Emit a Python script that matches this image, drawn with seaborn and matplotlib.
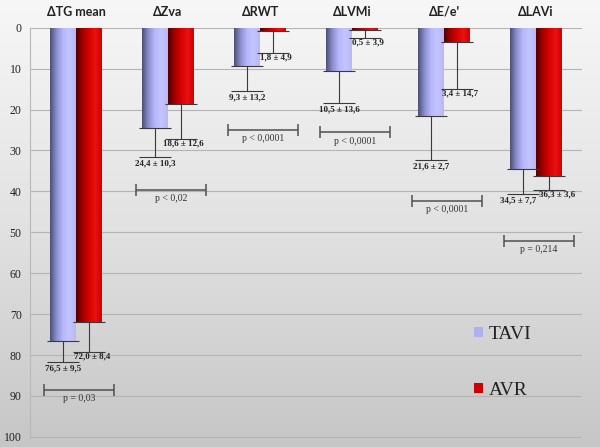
import numpy as np
import pandas as pd
import matplotlib
matplotlib.use('Agg')
import matplotlib.pyplot as plt
from matplotlib.colors import LinearSegmentedColormap
from matplotlib.patches import Patch
import seaborn as sns

# chart data
categories = ['ΔTG mean', 'ΔZva', 'ΔRWT', 'ΔLVMi', "ΔE/e'", 'ΔLAVi']
groups = ['TAVI', 'AVR']
tavi_vals = [76.5, 24.4, 9.3, 10.5, 21.6, 34.5]
avr_vals = [72.0, 18.6, 0.7, 0.6, 3.5, 36.3]
# error bar lengths as drawn in the figure
tavi_err = [5.3, 7.2, 6.2, 7.8, 10.7, 6.1]
avr_err = [7.2, 8.6, 5.5, 1.9, 11.5, 3.3]
tavi_labels = ['76,5 ± 9,5', '24,4 ± 10,3', '9,3 ± 13,2', '10,5 ± 13,6', '21,6 ± 2,7', '34,5 ± 7,7']
avr_labels = ['72,0 ± 8,4', '18,6 ± 12,6', '1,8 ± 4,9', '0,5 ± 3,9', '3,4 ± 14,7', '36,3 ± 3,6']
p_labels = ['p = 0,03', 'p < 0,02', 'p < 0,0001', 'p < 0,0001', 'p < 0,0001', 'p = 0,214']
p_level = [88.6, 39.7, 25.1, 25.6, 42.3, 52.2]

df = pd.DataFrame({
    'category': categories * 2,
    'group': ['TAVI'] * 6 + ['AVR'] * 6,
    'value': tavi_vals + avr_vals,
})

sns.set_theme(style='white')
serif = 'Liberation Serif'

fig = plt.figure(figsize=(6, 4.47), dpi=100)

# grey background gradient
bg = fig.add_axes([0, 0, 1, 1], zorder=-10)
bg_cmap = LinearSegmentedColormap.from_list('bg', ['#f7f7f7', '#e2e2e2', '#c6c6c6'])
bg.imshow(np.linspace(0, 1, 256).reshape(-1, 1), cmap=bg_cmap, aspect='auto', extent=[0, 1, 0, 1])
bg.axis('off')

ax = fig.add_axes([0.05, 0.02, 0.92, 0.918])
ax.set_facecolor('none')

sns.barplot(data=df, x='category', y='value', hue='group', hue_order=groups,
            palette=['#b0b2f2', '#d40000'], width=0.565, errorbar=None,
            linewidth=0, legend=False, ax=ax, zorder=3)

# cylinder-like gradient inside each bar
cmaps = {
    0: LinearSegmentedColormap.from_list('tv', ['#4c4f72', '#8c8ed0', '#b6b8fb', '#c3c4ff', '#b8b9f2']),
    1: LinearSegmentedColormap.from_list('av', ['#520000', '#a00000', '#d80000', '#e81212', '#d20000']),
}
grad = np.linspace(0, 1, 128).reshape(1, -1)
for k, cont in enumerate(ax.containers):
    for p in cont.patches:
        x0, w = p.get_x(), p.get_width()
        y0, h = p.get_y(), p.get_height()
        im = ax.imshow(grad, cmap=cmaps[k], aspect='auto',
                       extent=[x0, x0 + w, y0 + h, y0], zorder=4)
        im.set_clip_path(p)
ax.set_xlim(-0.5, 5.5)
ax.set_ylim(100.3, 0)

# error bars + labels
ecol = '#3a3a3a'
centers = {}
for k, (vals, errs) in enumerate([(tavi_vals, tavi_err), (avr_vals, avr_err)]):
    xs = [p.get_x() + p.get_width() / 2 for p in ax.containers[k].patches]
    centers[k] = xs
    ax.errorbar(xs, vals, yerr=[np.zeros(len(vals)), errs], fmt='none',
                ecolor=ecol, elinewidth=0.8, capsize=11.5, capthick=0.8, zorder=5)

lab_kw = dict(va='top', fontsize=6.5, fontweight='bold', family=serif, color='#222222', zorder=6)
for i in range(len(categories)):
    cap_t = tavi_vals[i] + tavi_err[i]
    cap_a = avr_vals[i] + avr_err[i]
    if abs(cap_t - cap_a) < 2:
        ax.text(i + 0.0, cap_t + 0.6, tavi_labels[i], ha='right', **lab_kw)
        ax.text(i + 0.03, cap_a + 0.2, avr_labels[i], ha='left', **lab_kw)
    else:
        ax.text(centers[0][i], cap_t + 0.6, tavi_labels[i], ha='center', **lab_kw)
        ax.text(centers[1][i] + 0.03, cap_a + 0.2, avr_labels[i], ha='center', **lab_kw)

# p-value brackets
for i, (lab, lev) in enumerate(zip(p_labels, p_level)):
    ax.errorbar(i + 0.03, lev, xerr=0.38, fmt='none', ecolor='#505050',
                elinewidth=1.1, capsize=4, capthick=1.1, zorder=5)
    ax.text(i + 0.03, lev + 1.0, lab, ha='center', va='top', fontsize=7,
            family=serif, color='#333333', zorder=6)

# axes styling
ax.set_yticks(np.arange(0, 101, 10))
ax.yaxis.grid(True, color='#b4b4b4', linewidth=0.8, zorder=0)
ax.set_axisbelow(True)
ax.xaxis.tick_top()
ax.tick_params(axis='x', length=0, pad=7)
ax.tick_params(axis='y', length=4, width=0.8, color='#b0b0b0', pad=2)
for t in ax.get_xticklabels():
    t.set_family('Lato')
    t.set_fontweight('bold')
    t.set_fontsize(9)
    t.set_color('#222222')
for t in ax.get_yticklabels():
    t.set_family(serif)
    t.set_fontsize(8.5)
    t.set_color('#222222')
ax.set_xlabel('')
ax.set_ylabel('')
for s in ['top', 'right', 'bottom']:
    ax.spines[s].set_visible(False)
ax.spines['left'].set_color('#b8b8b8')
ax.spines['left'].set_linewidth(0.8)

handles = [Patch(facecolor='#aeb0f2', edgecolor='none'),
           Patch(facecolor='#cc0000', edgecolor='none')]
leg = fig.legend(handles, groups, loc='upper left', bbox_to_anchor=(0.76, 0.31),
                 frameon=False, handlelength=0.47, handleheight=0.47,
                 handletextpad=0.3, labelspacing=2.0,
                 prop={'family': serif, 'size': 14})
for t in leg.get_texts():
    t.set_color('#222222')

fig.savefig('out.png', dpi=100)
